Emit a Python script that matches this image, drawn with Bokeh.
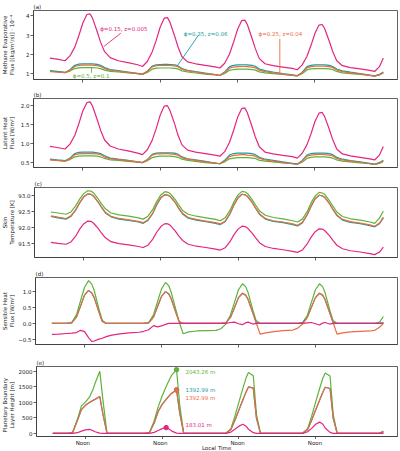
import math
from bokeh.plotting import figure
from bokeh.models import Range1d, FixedTicker, CustomJSTickFormatter
from bokeh.layouts import column, row
from bokeh.embed import file_html
from bokeh.resources import INLINE
from bokeh.core.properties import value

# ---------------- data (local time in hours, noon at 12, 36, 60, 84) ----------------
T = [1.8, 4.0,
     6.5, 8.0, 9.5, 10.75, 12.0, 13.25, 14.25, 15.0, 16.5, 17.5, 18.75, 20.5, 23.0, 26.0, 29.0,
     30.5, 32.0, 33.5, 34.75, 36.0, 37.25, 38.25, 39.0, 40.5, 41.5, 42.75, 44.5, 47.0, 50.0, 53.0,
     54.5, 56.0, 57.5, 58.75, 60.0, 61.25, 62.25, 63.0, 64.5, 65.5, 66.75, 68.5, 71.0, 74.0, 77.0,
     78.5, 80.0, 81.5, 82.75, 84.0, 85.25, 86.25, 87.0, 88.5, 89.5, 90.75, 92.5, 95.0, 98.0, 101.0,
     102.5, 104.0, 105.2]

noon_ticks = [12, 36, 60, 84]
noon_labels = ["Noon", "Noon", "Noon", "Noon"]
x_title = "Local Time"

series_names = ["ϕ=0.15, z=0.005", "ϕ=0.35, z=0.06", "ϕ=0.25, z=0.04", "ϕ=0.5, z=0.1"]

# (a) methane evaporative flux [1e-4 kg/m2/s]
evap_pink = [1.80, 1.74,
             1.66, 1.91, 2.37, 2.96, 3.63, 4.07, 4.10, 3.88, 3.16, 2.63, 2.13, 1.82, 1.66, 1.56, 1.45,
             1.36, 1.62, 2.11, 2.72, 3.42, 3.88, 3.91, 3.68, 2.94, 2.39, 1.87, 1.60, 1.50, 1.42, 1.34,
             1.28, 1.53, 2.01, 2.62, 3.30, 3.75, 3.78, 3.56, 2.82, 2.29, 1.77, 1.50, 1.40, 1.33, 1.26,
             1.19, 1.43, 1.88, 2.45, 3.09, 3.52, 3.55, 3.34, 2.65, 2.14, 1.66, 1.40, 1.30, 1.23, 1.16,
             1.10, 1.35, 1.80]
evap_teal = [1.14, 1.10,
             1.05, 1.19, 1.42, 1.48, 1.50, 1.50, 1.50, 1.50, 1.47, 1.42, 1.30, 1.20, 1.14, 1.07, 1.00,
             0.96, 1.11, 1.38, 1.45, 1.46, 1.47, 1.47, 1.46, 1.44, 1.39, 1.25, 1.16, 1.09, 1.01, 0.94,
             0.90, 1.07, 1.35, 1.42, 1.44, 1.45, 1.45, 1.44, 1.42, 1.37, 1.23, 1.14, 1.07, 0.99, 0.92,
             0.88, 1.05, 1.35, 1.42, 1.44, 1.45, 1.45, 1.44, 1.42, 1.36, 1.23, 1.13, 1.06, 0.99, 0.91,
             0.87, 0.95, 1.07]
evap_orange = [1.09, 1.07,
               1.04, 1.16, 1.36, 1.41, 1.43, 1.43, 1.43, 1.43, 1.40, 1.36, 1.25, 1.16, 1.11, 1.05, 0.99,
               0.95, 1.09, 1.34, 1.40, 1.41, 1.42, 1.42, 1.41, 1.39, 1.35, 1.22, 1.13, 1.07, 0.99, 0.93,
               0.89, 1.04, 1.27, 1.33, 1.35, 1.36, 1.36, 1.35, 1.33, 1.29, 1.17, 1.09, 1.03, 0.96, 0.90,
               0.87, 1.02, 1.29, 1.35, 1.37, 1.38, 1.38, 1.37, 1.35, 1.30, 1.18, 1.09, 1.03, 0.97, 0.90,
               0.86, 0.93, 1.04]
evap_green = [1.11, 1.08,
              1.04, 1.12, 1.25, 1.29, 1.30, 1.30, 1.30, 1.30, 1.28, 1.25, 1.17, 1.10, 1.07, 1.02, 0.98,
              0.95, 1.05, 1.22, 1.27, 1.28, 1.28, 1.28, 1.28, 1.26, 1.23, 1.13, 1.07, 1.02, 0.96, 0.92,
              0.89, 0.99, 1.16, 1.20, 1.22, 1.22, 1.22, 1.22, 1.20, 1.17, 1.08, 1.03, 0.99, 0.94, 0.90,
              0.87, 0.98, 1.18, 1.23, 1.25, 1.25, 1.25, 1.25, 1.23, 1.19, 1.10, 1.03, 0.99, 0.94, 0.89,
              0.86, 0.92, 1.02]

# (b) latent heat flux [W/m2]
lat_pink = [0.92, 0.89,
            0.85, 0.98, 1.21, 1.52, 1.86, 2.08, 2.10, 1.99, 1.62, 1.35, 1.09, 0.93, 0.85, 0.80, 0.74,
            0.70, 0.83, 1.08, 1.39, 1.75, 1.99, 2.00, 1.88, 1.51, 1.22, 0.96, 0.82, 0.77, 0.73, 0.69,
            0.66, 0.78, 1.03, 1.34, 1.69, 1.92, 1.94, 1.82, 1.44, 1.17, 0.91, 0.77, 0.72, 0.68, 0.65,
            0.61, 0.73, 0.96, 1.25, 1.58, 1.80, 1.82, 1.71, 1.36, 1.10, 0.85, 0.72, 0.67, 0.63, 0.59,
            0.56, 0.69, 0.92]
lat_teal = [0.58, 0.56,
            0.54, 0.61, 0.73, 0.76, 0.77, 0.77, 0.77, 0.77, 0.75, 0.73, 0.67, 0.61, 0.58, 0.55, 0.51,
            0.49, 0.57, 0.71, 0.74, 0.75, 0.75, 0.75, 0.75, 0.74, 0.71, 0.64, 0.59, 0.56, 0.52, 0.48,
            0.46, 0.55, 0.69, 0.73, 0.74, 0.74, 0.74, 0.74, 0.73, 0.70, 0.63, 0.58, 0.55, 0.51, 0.47,
            0.45, 0.54, 0.69, 0.73, 0.74, 0.74, 0.74, 0.74, 0.73, 0.70, 0.63, 0.58, 0.54, 0.51, 0.47,
            0.45, 0.49, 0.55]
lat_orange = [0.56, 0.55,
              0.53, 0.59, 0.70, 0.72, 0.73, 0.73, 0.73, 0.73, 0.72, 0.70, 0.64, 0.59, 0.57, 0.54, 0.51,
              0.49, 0.56, 0.69, 0.72, 0.72, 0.73, 0.73, 0.72, 0.71, 0.69, 0.62, 0.58, 0.55, 0.51, 0.48,
              0.46, 0.53, 0.65, 0.68, 0.69, 0.70, 0.70, 0.69, 0.68, 0.66, 0.60, 0.56, 0.53, 0.49, 0.46,
              0.45, 0.52, 0.66, 0.69, 0.70, 0.71, 0.71, 0.70, 0.69, 0.67, 0.60, 0.56, 0.53, 0.50, 0.46,
              0.44, 0.48, 0.53]
lat_green = [0.57, 0.55,
             0.53, 0.57, 0.64, 0.66, 0.67, 0.67, 0.67, 0.67, 0.66, 0.64, 0.60, 0.56, 0.55, 0.52, 0.50,
             0.49, 0.54, 0.62, 0.65, 0.66, 0.66, 0.66, 0.66, 0.65, 0.63, 0.58, 0.55, 0.52, 0.49, 0.47,
             0.46, 0.51, 0.59, 0.61, 0.62, 0.62, 0.62, 0.62, 0.61, 0.60, 0.55, 0.53, 0.51, 0.48, 0.46,
             0.45, 0.50, 0.60, 0.63, 0.64, 0.64, 0.64, 0.64, 0.63, 0.61, 0.56, 0.53, 0.51, 0.48, 0.46,
             0.44, 0.47, 0.52]

# (c) skin temperature [K]
tskin_pink = [91.55, 91.52,
              91.49, 91.56, 91.74, 91.96, 92.12, 92.21, 92.20, 92.15, 91.98, 91.84, 91.69, 91.57, 91.51, 91.47, 91.42,
              91.39, 91.46, 91.65, 91.87, 92.04, 92.13, 92.12, 92.07, 91.90, 91.76, 91.61, 91.49, 91.43, 91.39, 91.34,
              91.31, 91.38, 91.57, 91.79, 91.96, 92.05, 92.04, 91.99, 91.82, 91.69, 91.53, 91.42, 91.36, 91.32, 91.27,
              91.24, 91.31, 91.50, 91.71, 91.88, 91.97, 91.96, 91.91, 91.75, 91.61, 91.46, 91.35, 91.29, 91.25, 91.20,
              91.17, 91.25, 91.40]
tskin_teal = [92.35, 92.31,
              92.27, 92.35, 92.55, 92.77, 92.96, 93.05, 93.04, 92.99, 92.80, 92.64, 92.46, 92.34, 92.27, 92.23, 92.18,
              92.14, 92.23, 92.45, 92.72, 92.93, 93.03, 93.01, 92.96, 92.78, 92.61, 92.43, 92.30, 92.24, 92.19, 92.14,
              92.10, 92.19, 92.43, 92.71, 92.93, 93.04, 93.02, 92.97, 92.77, 92.60, 92.41, 92.27, 92.20, 92.16, 92.10,
              92.06, 92.15, 92.40, 92.67, 92.90, 93.01, 92.99, 92.94, 92.74, 92.57, 92.38, 92.24, 92.17, 92.13, 92.07,
              92.03, 92.13, 92.31]
tskin_orange = [92.37, 92.33,
                92.29, 92.37, 92.56, 92.78, 92.96, 93.05, 93.04, 92.99, 92.80, 92.65, 92.48, 92.36, 92.29, 92.25, 92.20,
                92.16, 92.25, 92.46, 92.73, 92.93, 93.03, 93.01, 92.96, 92.78, 92.62, 92.45, 92.32, 92.26, 92.21, 92.16,
                92.12, 92.21, 92.44, 92.72, 92.93, 93.04, 93.02, 92.97, 92.77, 92.61, 92.43, 92.29, 92.22, 92.18, 92.12,
                92.08, 92.17, 92.41, 92.68, 92.90, 93.01, 92.99, 92.94, 92.74, 92.58, 92.40, 92.26, 92.19, 92.15, 92.09,
                92.05, 92.15, 92.33]
tskin_green = [92.49, 92.46,
               92.42, 92.49, 92.68, 92.89, 93.06, 93.15, 93.14, 93.09, 92.90, 92.75, 92.59, 92.46, 92.40, 92.36, 92.31,
               92.27, 92.36, 92.57, 92.82, 93.02, 93.12, 93.10, 93.05, 92.87, 92.72, 92.54, 92.42, 92.36, 92.31, 92.26,
               92.22, 92.31, 92.54, 92.81, 93.02, 93.13, 93.11, 93.06, 92.86, 92.70, 92.52, 92.39, 92.32, 92.28, 92.22,
               92.18, 92.27, 92.50, 92.78, 92.99, 93.10, 93.08, 93.03, 92.83, 92.67, 92.49, 92.35, 92.28, 92.24, 92.18,
               92.14, 92.30, 92.52]

# (d) sensible heat flux [W/m2]
sens_pink = [-0.35, -0.34,
             -0.32, -0.31, -0.29, -0.22, -0.26, -0.45, -0.57, -0.56, -0.50, -0.47, -0.42, -0.37, -0.33, -0.30, -0.28,
             -0.25, -0.20, -0.07, -0.11, -0.08, -0.03, 0.00, 0.00, 0.00, 0.00, 0.00, 0.00, 0.00, 0.00, 0.00,
             0.00, 0.00, 0.03, 0.04, -0.01, -0.04, 0.02, 0.04, -0.02, 0.00, 0.00, 0.00, 0.00, 0.00, 0.00,
             0.00, 0.00, 0.02, 0.03, -0.01, -0.05, 0.01, 0.03, -0.02, 0.00, 0.00, 0.00, 0.00, 0.00, 0.00,
             0.00, 0.00, 0.00]
sens_teal = [0.00, 0.00,
             0.00, 0.02, 0.21, 0.55, 0.90, 1.05, 0.97, 0.82, 0.36, 0.07, 0.00, 0.00, 0.00, 0.00, 0.00,
             0.00, 0.02, 0.20, 0.53, 0.86, 1.01, 0.94, 0.79, 0.34, 0.06, 0.00, 0.00, 0.00, 0.00, 0.00,
             0.00, 0.02, 0.19, 0.50, 0.82, 0.96, 0.90, 0.76, 0.33, 0.03, 0.00, 0.00, 0.00, 0.00, 0.00,
             0.00, 0.02, 0.20, 0.51, 0.82, 0.96, 0.90, 0.76, 0.33, 0.03, 0.00, 0.00, 0.00, 0.00, 0.00,
             0.00, 0.00, 0.03]
sens_orange = [0.00, 0.00,
               0.00, 0.02, 0.21, 0.55, 0.90, 1.05, 0.97, 0.82, 0.36, 0.07, 0.00, 0.00, 0.00, 0.00, 0.00,
               0.00, 0.02, 0.20, 0.53, 0.86, 1.01, 0.94, 0.79, 0.34, 0.06, 0.00, 0.00, 0.00, 0.00, 0.00,
               0.00, 0.02, 0.19, 0.50, 0.82, 0.96, 0.90, 0.76, 0.33, 0.03, -0.34, -0.30, -0.26, -0.23, -0.21,
               -0.15, -0.02, 0.20, 0.51, 0.82, 0.96, 0.90, 0.76, 0.33, 0.03, -0.34, -0.30, -0.27, -0.25, -0.24,
               -0.22, -0.12, 0.00]
sens_green = [0.00, 0.00,
              0.00, 0.03, 0.28, 0.72, 1.15, 1.36, 1.25, 1.05, 0.45, 0.10, 0.00, 0.00, 0.00, 0.00, 0.00,
              0.00, 0.03, 0.27, 0.69, 1.10, 1.30, 1.20, 1.00, 0.43, 0.05, -0.33, -0.27, -0.24, -0.23, -0.22,
              -0.17, -0.03, 0.27, 0.67, 1.07, 1.26, 1.17, 0.98, 0.42, 0.09, 0.00, 0.00, 0.00, 0.00, 0.00,
              0.00, 0.03, 0.26, 0.67, 1.07, 1.26, 1.17, 0.98, 0.42, 0.09, 0.00, 0.00, 0.00, 0.00, 0.00,
              0.00, 0.04, 0.22]

# (e) planetary boundary layer height [m]
pbl_pink = [0, 0,
            0, 0, 20, 70, 110, 125, 90, 50, 5, 0, 0, 0, 0, 0, 0,
            0, 0, 30, 90, 150, 183.01, 130, 70, 5, 0, 0, 0, 0, 0, 0,
            0, 0, 40, 130, 230, 290, 230, 130, 20, 0, 0, 0, 0, 0, 0,
            0, 0, 50, 160, 290, 360, 290, 170, 30, 0, 0, 0, 0, 0, 0,
            0, 0, 0]
pbl_teal = [0, 0,
            0, 25, 420, 760, 900, 990, 1050, 1090, 1180, 600, 0, 0, 0, 0, 0,
            0, 20, 330, 700, 930, 1090, 1210, 1290, 1392.99, 650, 0, 0, 0, 0, 0,
            0, 10, 120, 420, 750, 1080, 1330, 1490, 1450, 480, 0, 0, 0, 0, 0,
            0, 10, 120, 420, 750, 1070, 1320, 1480, 1440, 480, 0, 0, 0, 0, 0,
            0, 5, 40]
pbl_orange = [0, 0,
              0, 25, 420, 760, 900, 990, 1050, 1090, 1180, 600, 0, 0, 0, 0, 0,
              0, 20, 330, 700, 930, 1090, 1210, 1290, 1392.99, 650, 0, 0, 0, 0, 0,
              0, 10, 120, 420, 750, 1080, 1330, 1490, 1450, 480, 0, 0, 0, 0, 0,
              0, 10, 120, 420, 750, 1070, 1320, 1480, 1440, 480, 0, 0, 0, 0, 0,
              0, 5, 40]
pbl_green = [0, 0,
             0, 30, 450, 880, 1000, 1160, 1380, 1600, 1990, 1050, 0, 0, 0, 0, 0,
             0, 20, 400, 850, 1200, 1500, 1720, 1870, 2043.26, 900, 0, 0, 0, 0, 0,
             0, 10, 150, 550, 1000, 1450, 1780, 1950, 1850, 600, 0, 0, 0, 0, 0,
             0, 10, 150, 550, 1000, 1440, 1770, 1940, 1840, 600, 0, 0, 0, 0, 0,
             0, 10, 70]

# marked points in (e): green, teal, orange, pink
mark_t = [40.5, 40.5, 40.5, 37.25]
mark_v = [2043.26, 1392.99, 1392.99, 183.01]

# ---------------- styling ----------------
PINK = "#e3267f"
TEAL = "#1b9b9b"
ORANGE = "#ec6a43"
GREEN = "#5db338"
FONT = "DejaVu Sans"
FS = "5.5px"
FRAME = "#3a3a3a"
TXT = "#222222"
STRIP_W = 15

x_rng = Range1d(-3.3, 109.6)


def bare(width, height, xr, yr, left=0, right=0):
    s = figure(width=width, height=height, x_range=xr, y_range=yr,
               output_backend="svg", toolbar_location=None,
               x_axis_location=None, y_axis_location=None,
               min_border=0, min_border_left=left, min_border_right=right,
               min_border_top=0, min_border_bottom=0)
    s.xgrid.visible = False
    s.ygrid.visible = False
    s.outline_line_color = None
    s.background_fill_color = "white"
    s.border_fill_color = "white"
    return s


def ylabel_strip(h, top, frame_h, lines):
    s = bare(STRIP_W, h, Range1d(0, STRIP_W), Range1d(0, h))
    yc = h - top - frame_h / 2.0
    s.text(x=[4.5, 11.5], y=[yc, yc], text=lines, angle=math.pi / 2,
           text_font=value(FONT), text_font_size=FS, text_color=TXT,
           text_align="center", text_baseline="middle")
    return s


def make_fig(h, top, bottom, yr, yticks, ylabels, letter):
    p = figure(width=400 - STRIP_W, height=h, x_range=x_rng, y_range=Range1d(*yr),
               output_backend="svg", toolbar_location=None,
               min_border_left=33 - STRIP_W, min_border_right=3,
               min_border_top=top, min_border_bottom=bottom)
    p.xgrid.visible = False
    p.ygrid.visible = False
    p.outline_line_color = FRAME
    p.outline_line_width = 0.8
    p.background_fill_color = "white"
    p.border_fill_color = "white"
    p.title.text = letter
    p.title.text_font = FONT
    p.title.text_font_size = FS
    p.title.text_font_style = "normal"
    p.title.text_color = TXT
    p.title.align = "left"
    p.title.standoff = 2
    p.title.offset = 0
    for ax in (p.xaxis[0], p.yaxis[0]):
        ax.axis_line_color = FRAME
        ax.axis_line_width = 0.8
        ax.major_tick_line_color = FRAME
        ax.major_tick_line_width = 0.8
        ax.major_tick_out = 3
        ax.major_tick_in = 0
        ax.minor_tick_line_color = None
        ax.major_label_text_font = FONT
        ax.major_label_text_font_size = FS
        ax.major_label_text_color = TXT
        ax.major_label_standoff = 1
    p.yaxis.ticker = FixedTicker(ticks=yticks)
    p.yaxis.formatter = CustomJSTickFormatter(
        args=dict(tvals=yticks, tlabs=ylabels),
        code="const i = tvals.findIndex(t => Math.abs(t - tick) < 1e-6); return i >= 0 ? tlabs[i] : '';")
    p.xaxis.ticker = FixedTicker(ticks=noon_ticks)
    p.xaxis.major_label_text_font_size = "0px"
    p.xaxis.major_label_text_color = None
    p.xaxis.major_label_standoff = 0
    return p


def draw(p, ys):
    for y, c in zip(ys, [GREEN, TEAL, ORANGE, PINK]):
        p.line(T, y, line_color=c, line_width=1.2)


# panel geometry: (figure height, top border, bottom border)
geo_a = (88, 9, 9)
geo_b = (89, 10, 10)
geo_c = (90, 10, 10)
geo_d = (87, 10, 10)
geo_e = (85, 12, 3)
BOTTOM_H = 451 - sum(g[0] for g in (geo_a, geo_b, geo_c, geo_d, geo_e))

# (a)
pa = make_fig(*geo_a, (0.68, 4.28), [1, 2, 3, 4], ["1", "2", "3", "4"], "(a)")
draw(pa, [evap_green, evap_teal, evap_orange, evap_pink])
ann_x = [24.7, 50.1, 73.3, 14.6]
ann_y = [3.34, 3.07, 3.07, 0.84]
ann_colors = [PINK, TEAL, ORANGE, GREEN]
seg_x0 = [23.8, 48.0, 73.1, 14.7]
seg_y0 = [3.10, 3.02, 2.81, 1.03]
seg_x1 = [18.6, 41.4, 73.1, 14.7]
seg_y1 = [2.41, 1.42, 0.96, 1.31]
pa.segment(x0=seg_x0, y0=seg_y0, x1=seg_x1, y1=seg_y1, line_color=ann_colors, line_width=0.9)
pa.text(x=ann_x, y=ann_y, text=series_names, text_color=ann_colors, text_font=value(FONT),
        text_font_size=FS, text_align="center", text_baseline="middle")
sa = ylabel_strip(geo_a[0], geo_a[1], geo_a[0] - geo_a[1] - geo_a[2],
                  ["Methane Evaporative", "Flux [(kg/m²/s)] · 10⁻⁴"])

# (b)
pb = make_fig(*geo_b, (0.36, 2.19), [0.5, 1.0, 1.5, 2.0], ["0.5", "1.0", "1.5", "2.0"], "(b)")
draw(pb, [lat_green, lat_teal, lat_orange, lat_pink])
sb = ylabel_strip(geo_b[0], geo_b[1], geo_b[0] - geo_b[1] - geo_b[2], ["Latent Heat", "Flux [W/m²]"])

# (c)
pc = make_fig(*geo_c, (91.08, 93.25), [91.5, 92.0, 92.5, 93.0], ["91.5", "92.0", "92.5", "93.0"], "(c)")
draw(pc, [tskin_green, tskin_teal, tskin_orange, tskin_pink])
sc = ylabel_strip(geo_c[0], geo_c[1], geo_c[0] - geo_c[1] - geo_c[2], ["Skin", "Temperature [K]"])

# (d)
pd_ = make_fig(*geo_d, (-0.67, 1.46), [-0.5, 0.0, 0.5, 1.0], ["−0.5", "0.0", "0.5", "1.0"], "(d)")
draw(pd_, [sens_green, sens_teal, sens_orange, sens_pink])
sd = ylabel_strip(geo_d[0], geo_d[1], geo_d[0] - geo_d[1] - geo_d[2], ["Sensible Heat", "Flux [W/m²]"])

# (e)
pe = make_fig(*geo_e, (-102, 2145), [0, 500, 1000, 1500, 2000], ["0", "500", "1000", "1500", "2000"], "(e)")
draw(pe, [pbl_green, pbl_teal, pbl_orange, pbl_pink])
mark_colors = [GREEN, TEAL, ORANGE, PINK]
pe.scatter(x=mark_t, y=mark_v, color=mark_colors, size=4.5)
lab_x = [43.3, 43.3, 43.3, 43.3]
lab_y = [1965, 1388, 1131, 266]
pe.text(x=lab_x, y=lab_y, text=[f"{v:.2f} m" for v in mark_v], text_color=mark_colors,
        text_font=value(FONT), text_font_size=FS, text_align="left", text_baseline="middle")
se = ylabel_strip(geo_e[0], geo_e[1], geo_e[0] - geo_e[1] - geo_e[2],
                  ["Planetary Boundary", "Layer Height [m]"])

# bottom strip: x tick labels ("Noon") and x-axis title, on the shared time scale
bot = bare(400, BOTTOM_H, x_rng, Range1d(0, BOTTOM_H), left=33, right=3)
bot.text(x=noon_ticks, y=[BOTTOM_H - 0.5] * len(noon_ticks), text=noon_labels,
         text_font=value(FONT), text_font_size=FS, text_color=TXT,
         text_align="center", text_baseline="top")
bot.text(x=[53.5], y=[0.6], text=[x_title],
         text_font=value(FONT), text_font_size=FS, text_color=TXT,
         text_align="center", text_baseline="bottom")

layout = column(row(sa, pa, spacing=0), row(sb, pb, spacing=0), row(sc, pc, spacing=0),
                row(sd, pd_, spacing=0), row(se, pe, spacing=0), bot, spacing=0)
open("out.html", "w").write(file_html(layout, INLINE))
